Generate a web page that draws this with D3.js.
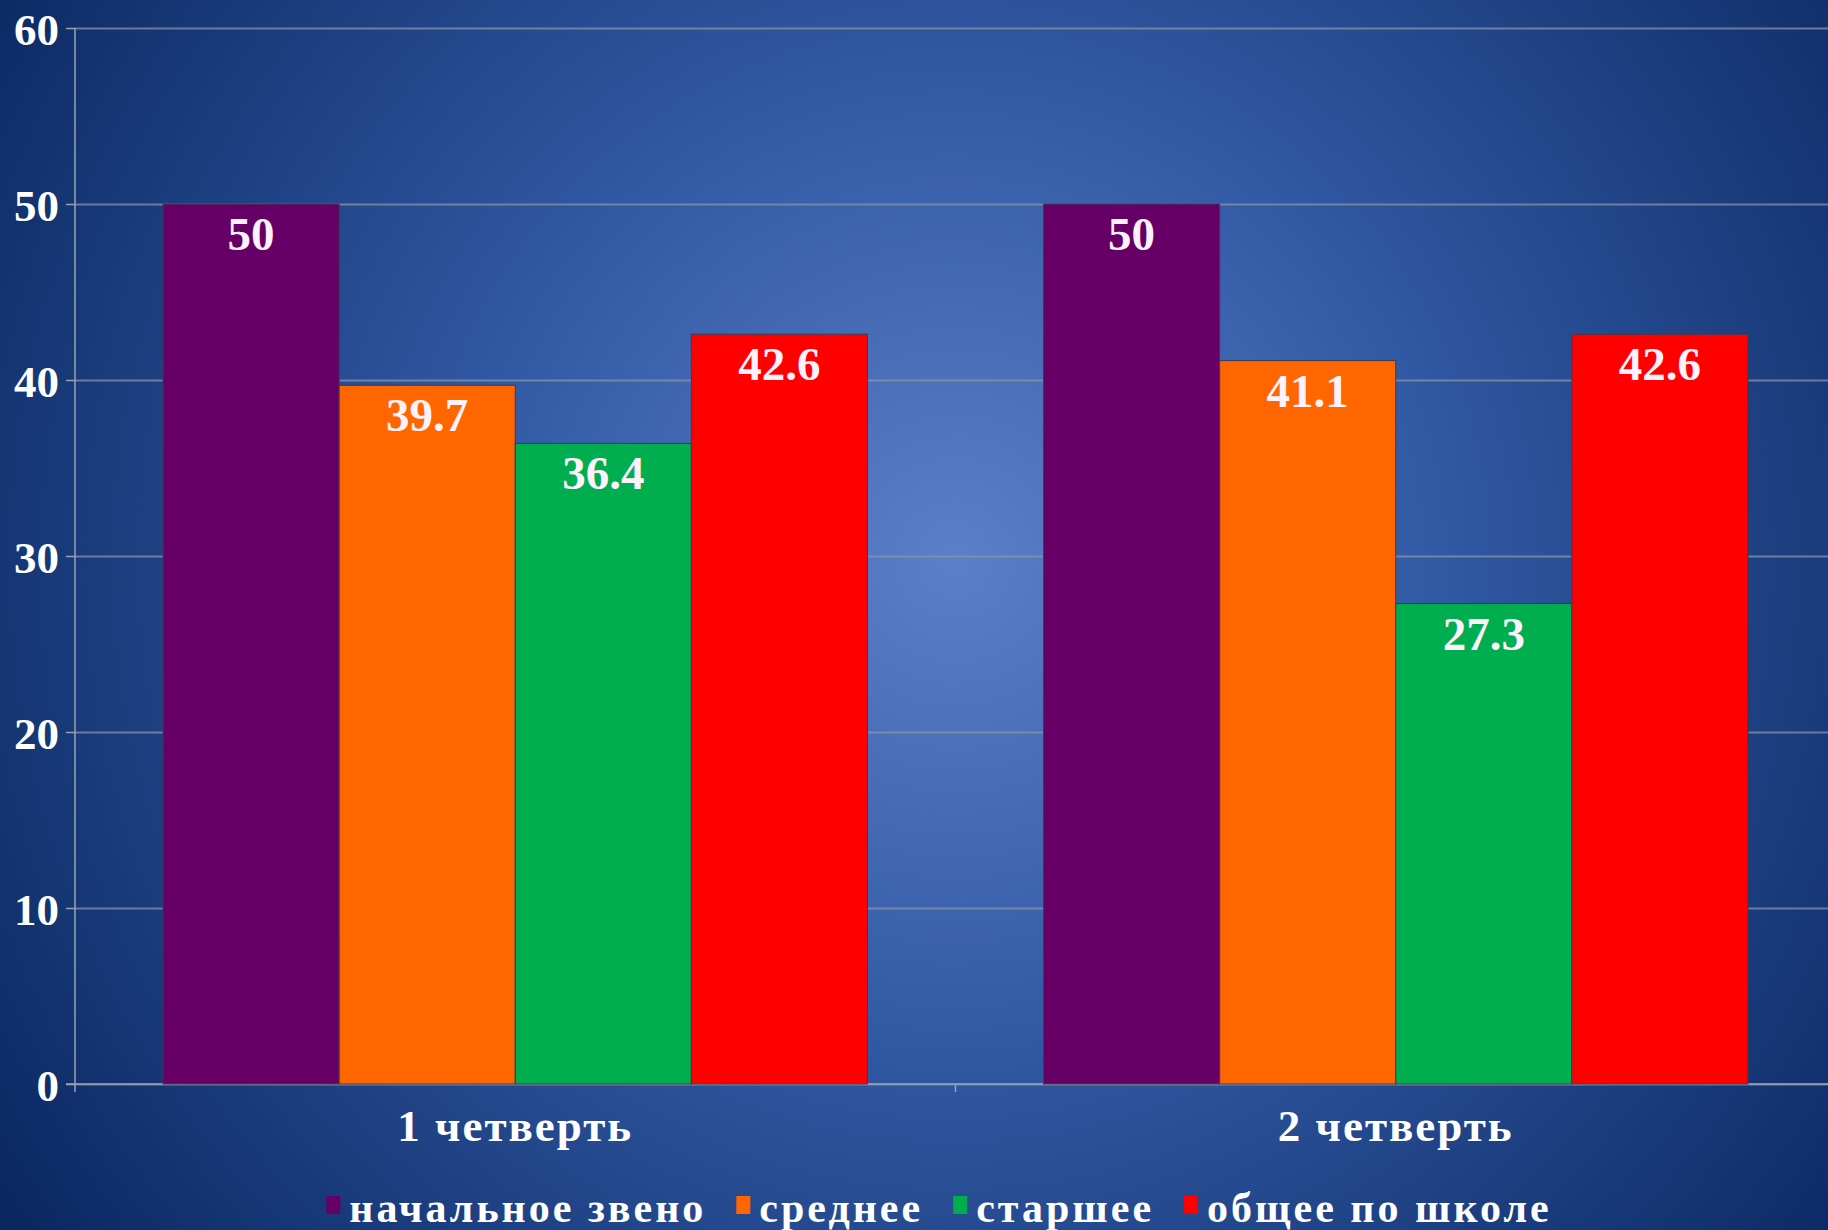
<!DOCTYPE html>
<meta charset="utf-8">
<head>
<style>
  body { margin: 0; padding: 0; background: #0c2b66; }
  svg { display: block; }
  text { font-family: "Liberation Serif", "Times New Roman", serif; font-weight: bold; fill: #fff; }
  .grid line { stroke: #8a93a8; stroke-opacity: 0.75; stroke-width: 2px; }
  .axis path, .axis line { fill: none; stroke: #9aa3b5; stroke-width: 1.5px; }
</style>
</head>
<body>
<script src="https://d3js.org/d3.v7.min.js"></script>
<script>
// data
var categories = ["1 четверть", "2 четверть"];
var series = ["начальное звено", "среднее", "старшее", "общее по школе"];
var seriesColors = ["#660066", "#ff6600", "#00ad4f", "#ff0000"];
var values = [
  [50, 39.7, 36.4, 42.6],   // 1 четверть
  [50, 41.1, 27.3, 42.6]    // 2 четверть
];
var yTicks = [0, 10, 20, 30, 40, 50, 60];

var width = 1828, height = 1230;
var plot = {left: 75, right: 1836, top: 28, bottom: 1084};

var svg = d3.select("body").append("svg")
    .attr("width", width)
    .attr("height", height);

// background
var defs = svg.append("defs");
var grad = defs.append("radialGradient")
    .attr("id", "bg")
    .attr("gradientUnits", "userSpaceOnUse")
    .attr("cx", 955).attr("cy", 560).attr("r", 1150);
grad.append("stop").attr("offset", "0").attr("stop-color", "#5a80c9");
grad.append("stop").attr("offset", "0.45").attr("stop-color", "#2f56a0");
grad.append("stop").attr("offset", "1").attr("stop-color", "#0a2760");
svg.append("rect").attr("width", width).attr("height", height).attr("fill", "url(#bg)");

// scales
var x0 = d3.scaleBand()
    .domain(categories)
    .range([plot.left, plot.right])
    .padding(0);

var x1 = d3.scaleBand()
    .domain(series)
    .range([0, x0.bandwidth()])
    .paddingInner(0)
    .paddingOuter(0.5);

var y = d3.scaleLinear()
    .domain([0, 60])
    .range([plot.bottom, plot.top]);

var color = d3.scaleOrdinal().domain(series).range(seriesColors);

// grid lines
svg.append("g")
    .attr("class", "grid")
    .attr("transform", "translate(" + plot.left + ",0)")
    .call(d3.axisLeft(y).tickValues(yTicks).tickSize(-(plot.right - plot.left)).tickFormat(""))
    .call(function(g) { g.select(".domain").remove(); });

// y axis
var yAxis = svg.append("g")
    .attr("class", "axis")
    .attr("transform", "translate(" + plot.left + ",0)")
    .call(d3.axisLeft(y).tickValues(yTicks).tickSize(9).tickSizeOuter(0).tickPadding(7));
yAxis.select(".domain").attr("d", "M0," + plot.top + "V" + (plot.bottom + 8));
yAxis.selectAll("text")
    .style("font-size", "45px")
    .attr("dy", "0.36em");

// x axis
var xAxis = svg.append("g")
    .attr("class", "axis")
    .attr("transform", "translate(0," + plot.bottom + ")")
    .call(d3.axisBottom(x0).tickSize(0).tickPadding(23));
xAxis.select(".domain").remove();
xAxis.selectAll("text")
    .style("font-size", "45px")
    .style("letter-spacing", "2px")
    .attr("dy", "0.75em");
xAxis.append("line")
    .attr("x1", plot.left - 9).attr("x2", plot.right)
    .attr("y1", 0).attr("y2", 0);
xAxis.append("line")
    .attr("x1", x0(categories[1])).attr("x2", x0(categories[1]))
    .attr("y1", 0).attr("y2", 8);

// bars
var groups = svg.selectAll("g.group")
    .data(values)
  .enter().append("g")
    .attr("class", "group")
    .attr("transform", function(d, i) { return "translate(" + x0(categories[i]) + ",0)"; });

var cells = groups.selectAll("g.cell")
    .data(function(d) { return d.map(function(v, j) { return {s: series[j], v: v}; }); })
  .enter().append("g")
    .attr("class", "cell");

cells.append("rect")
    .attr("x", function(d) { return x1(d.s); })
    .attr("width", x1.bandwidth())
    .attr("y", function(d) { return y(d.v); })
    .attr("height", function(d) { return y(0) - y(d.v); })
    .attr("fill", function(d) { return color(d.s); })
    .attr("stroke", "#3a3a55")
    .attr("stroke-width", 1);

cells.append("text")
    .attr("x", function(d) { return x1(d.s) + x1.bandwidth() / 2; })
    .attr("y", function(d) { return y(d.v) + 46; })
    .attr("text-anchor", "middle")
    .style("font-size", "47px")
    .style("fill", "#fdf2fb")
    .text(function(d) { return d.v; });

// legend
var legend = svg.append("g").attr("class", "legend");
var items = legend.selectAll("g")
    .data(series)
  .enter().append("g");
items.append("rect")
    .attr("width", 14).attr("height", 18)
    .attr("y", -26)
    .attr("fill", function(d) { return color(d); });
items.append("text")
    .attr("x", 23)
    .style("font-size", "42px")
    .style("letter-spacing", "3px")
    .text(function(d) { return d; });

var gap = 30, offs = [], cur = 0;
items.each(function() {
  offs.push(cur);
  cur += 23 + this.querySelector("text").getComputedTextLength() + gap;
});
var total = cur - gap;
var startX = 939 - total / 2;
items.attr("transform", function(d, i) { return "translate(" + (startX + offs[i]) + ",1222)"; });
</script>
</body>
